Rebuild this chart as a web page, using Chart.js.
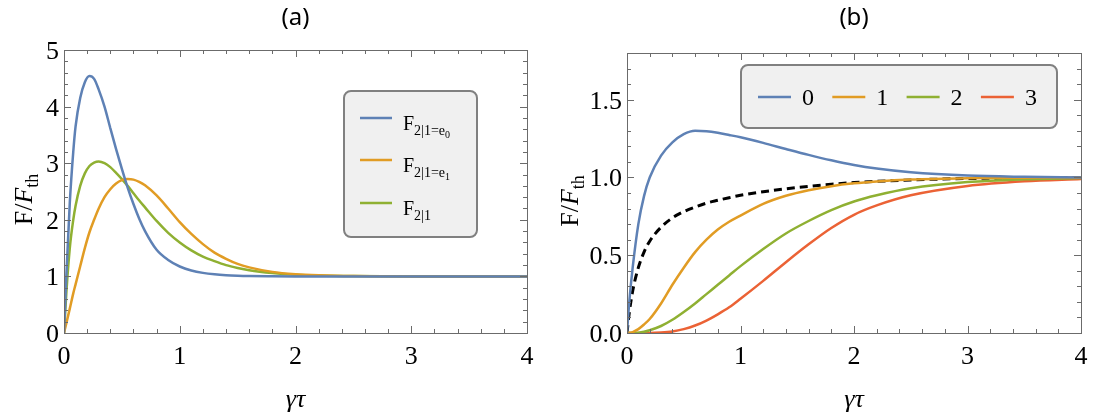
<!DOCTYPE html>
<html>
<head>
<meta charset="utf-8">
<script src="https://cdn.jsdelivr.net/npm/chart.js@4.4.1/dist/chart.umd.min.js"></script>
<style>
html, body { margin: 0; padding: 0; background: #fff; }
#wrap { display: flex; width: 1094px; height: 420px; }
.panel { width: 547px; height: 420px; }
</style>
</head>
<body>
<div id="wrap">
  <div class="panel"><canvas id="chartA" width="547" height="420"></canvas></div>
  <div class="panel"><canvas id="chartB" width="547" height="420"></canvas></div>
</div>
<script>
// ---- panel (a) data ----
const xA = [0, 0.02, 0.05, 0.08, 0.1, 0.14, 0.18, 0.22, 0.26, 0.3, 0.35, 0.4, 0.45, 0.5, 0.55, 0.6, 0.65, 0.7,
            0.8, 0.9, 1.0, 1.1, 1.2, 1.3, 1.4, 1.5, 1.6, 1.8, 2.0, 2.2, 2.5, 3.0, 3.5, 4.0]
const fE0 = [0, 1.0, 2.3, 3.2, 3.65, 4.15, 4.43, 4.54, 4.49, 4.3, 4.0, 3.62, 3.25, 2.9, 2.57, 2.28, 2.02, 1.8,
             1.47, 1.29, 1.175, 1.105, 1.062, 1.036, 1.02, 1.011, 1.006, 1.002, 1.0, 1.0, 1.0, 1.0, 1.0, 1.0]
const fE1 = [0, 0.17, 0.43, 0.7, 0.86, 1.18, 1.5, 1.78, 2.0, 2.2, 2.4, 2.54, 2.64, 2.7, 2.72, 2.71, 2.67, 2.61,
             2.43, 2.2, 1.96, 1.75, 1.57, 1.42, 1.31, 1.22, 1.16, 1.08, 1.04, 1.02, 1.005, 1.0, 1.0, 1.0]
const fAll = [0, 0.7, 1.5, 2.0, 2.25, 2.6, 2.82, 2.95, 3.01, 3.03, 3.0, 2.93, 2.83, 2.72, 2.6, 2.47, 2.34, 2.22,
              1.98, 1.77, 1.6, 1.46, 1.35, 1.27, 1.2, 1.15, 1.11, 1.06, 1.03, 1.015, 1.005, 1.0, 1.0, 1.0]
const xTicksA = [0, 1, 2, 3, 4]
const yTicksA = [0, 1, 2, 3, 4, 5]

// ---- panel (b) data ----
const xB = [0, 0.02, 0.05, 0.1, 0.15, 0.2, 0.3, 0.4, 0.5, 0.6, 0.7, 0.8, 0.9, 1.0, 1.2, 1.4, 1.6,
            1.8, 2.0, 2.2, 2.5, 3.0, 3.5, 4.0]
const n0 = [0, 0.2, 0.42, 0.7, 0.88, 1.0, 1.14, 1.225, 1.278, 1.300, 1.297, 1.287, 1.273, 1.258, 1.222, 1.183, 1.145,
            1.11, 1.08, 1.057, 1.033, 1.012, 1.004, 1.0]
const n1 = [0, 0.001, 0.006, 0.025, 0.055, 0.09, 0.19, 0.31, 0.42, 0.52, 0.6, 0.665, 0.715, 0.755, 0.83, 0.882, 0.918,
            0.944, 0.962, 0.974, 0.986, 0.995, 0.998, 1.0]
const n2 = [0, 0, 0, 0.002, 0.008, 0.018, 0.045, 0.085, 0.135, 0.19, 0.25, 0.31, 0.37, 0.43, 0.54, 0.64, 0.72,
            0.79, 0.845, 0.885, 0.93, 0.97, 0.988, 0.996]
const n3 = [0, 0, 0, 0, 0, 0, 0.003, 0.01, 0.025, 0.048, 0.08, 0.12, 0.165, 0.22, 0.335, 0.455, 0.57,
            0.675, 0.76, 0.82, 0.885, 0.945, 0.975, 0.99]
const dashed = [0, 0.13, 0.27, 0.42, 0.52, 0.59, 0.68, 0.74, 0.78, 0.81, 0.835, 0.853, 0.87, 0.885, 0.908, 0.927, 0.943,
                0.956, 0.967, 0.975, 0.984, 0.993, 0.997, 1.0]
const xTicksB = [0, 1, 2, 3, 4]
const yTicksB = [0, 0.5, 1.0, 1.5]

const BLUE = '#5e81b5', ORANGE = '#e19c24', GREEN = '#8fb032', RED = '#eb6235'
const SERIF = '"Liberation Serif", "Times New Roman", serif'
const FRAME = '#6b6b6b'

const pts = (xs, ys) => xs.map((x, i) => ({ x: x, y: ys[i] }))

function line(label, xs, ys, color, extra) {
    return Object.assign({
        label: label, data: pts(xs, ys), borderColor: color, borderWidth: 2.5,
        pointRadius: 0, cubicInterpolationMode: 'monotone', fill: false
    }, extra || {})
}

// frame with inward ticks on all four sides, Mathematica style; also labels and titles
const frameTicks = {
    id: 'frameTicks',
    afterDraw(chart, args, opts) {
        const { ctx, chartArea: a, scales: { x, y } } = chart
        ctx.save()
        ctx.strokeStyle = FRAME
        ctx.lineWidth = 1
        ctx.beginPath()
        for (let v = x.min; v <= x.max + 1e-9; v += opts.xMinor) {
            const px = Math.round(x.getPixelForValue(v)) + 0.5
            const major = Math.abs(v / opts.xMajor - Math.round(v / opts.xMajor)) < 1e-6
            const len = major ? 7 : 4
            ctx.moveTo(px, a.bottom); ctx.lineTo(px, a.bottom - len)
            ctx.moveTo(px, a.top); ctx.lineTo(px, a.top + len)
        }
        for (let v = y.min; v <= y.max + 1e-9; v += opts.yMinor) {
            const py = Math.round(y.getPixelForValue(v)) + 0.5
            const major = Math.abs(v / opts.yMajor - Math.round(v / opts.yMajor)) < 1e-6
            const len = major ? 7 : 4
            ctx.moveTo(a.left, py); ctx.lineTo(a.left + len, py)
            ctx.moveTo(a.right, py); ctx.lineTo(a.right - len, py)
        }
        ctx.stroke()
        ctx.strokeRect(Math.round(a.left) + 0.5, Math.round(a.top) + 0.5,
            Math.round(a.right - a.left), Math.round(a.bottom - a.top))

        // tick labels, from the scales' own ticks
        ctx.fillStyle = '#000'
        ctx.font = '26px ' + SERIF
        ctx.textBaseline = 'alphabetic'
        ctx.textAlign = 'center'
        x.ticks.forEach(t => ctx.fillText(String(t.value), x.getPixelForValue(t.value), a.bottom + 31))
        ctx.textAlign = 'right'
        y.ticks.forEach(t => ctx.fillText(opts.yFmt(t.value), a.left - 5, y.getPixelForValue(t.value) + 9))

        // panel title
        const cx = (a.left + a.right) / 2
        ctx.textAlign = 'center'
        ctx.textBaseline = 'middle'
        ctx.font = '24px "Noto Sans", sans-serif'
        ctx.fillText(opts.title, cx, 18)

        // x axis title
        ctx.textBaseline = 'alphabetic'
        ctx.font = 'italic 26px ' + SERIF
        ctx.fillText('γτ', cx, 407)

        // y axis title  F/F_th
        ctx.save()
        ctx.translate(opts.yTitleX, (a.top + a.bottom) / 2 + 8)
        ctx.rotate(-Math.PI / 2)
        ctx.textAlign = 'left'
        const parts = [['F/', '26px ' + SERIF, 0], ['F', 'italic 26px ' + SERIF, 0], ['th', '18px ' + SERIF, 6]]
        let w = 0
        parts.forEach(p => { ctx.font = p[1]; w += ctx.measureText(p[0]).width })
        let tx = -w / 2
        parts.forEach(p => { ctx.font = p[1]; ctx.fillText(p[0], tx, p[2]); tx += ctx.measureText(p[0]).width })
        ctx.restore()
        ctx.restore()
    }
}

function legendBox(ctx, x0, y0, x1, y1) {
    ctx.beginPath()
    ctx.roundRect(x0, y0, x1 - x0, y1 - y0, 7)
    ctx.fillStyle = '#f0f0f0'
    ctx.fill()
    ctx.strokeStyle = '#808080'
    ctx.lineWidth = 2
    ctx.stroke()
}

// legend for (a): F with two levels of subscript
const legendSubA = [['F', '2|1=e', '0'], ['F', '2|1=e', '1'], ['F', '2|1', '']]
const legendA = {
    id: 'legendA',
    afterDraw(chart) {
        const ctx = chart.ctx
        ctx.save()
        legendBox(ctx, 344, 91, 477, 237)
        const rows = [118, 160, 203]
        chart.data.datasets.forEach((ds, i) => {
            const ly = rows[i]
            ctx.strokeStyle = ds.borderColor
            ctx.lineWidth = 2.5
            ctx.beginPath(); ctx.moveTo(360, ly); ctx.lineTo(392, ly); ctx.stroke()
            const [a, b, c] = legendSubA[i]
            ctx.fillStyle = '#000'
            ctx.textBaseline = 'alphabetic'
            ctx.textAlign = 'left'
            let tx = 403
            const base = ly + 12
            ctx.font = '20px ' + SERIF
            ctx.fillText(a, tx, base); tx += ctx.measureText(a).width
            ctx.font = '14px ' + SERIF
            ctx.fillText(b, tx, base + 5); tx += ctx.measureText(b).width
            ctx.font = '10px ' + SERIF
            ctx.fillText(c, tx, base + 8)
        })
        ctx.restore()
    }
}

const legendLabelsB = ['0', '1', '2', '3']
const legendB = {
    id: 'legendB',
    afterDraw(chart) {
        const ctx = chart.ctx
        ctx.save()
        legendBox(ctx, 194, 65, 510, 128)
        const ly = 97
        chart.data.datasets.slice(0, 4).forEach((ds, i) => {
            const lx = 211 + i * 74.3
            ctx.strokeStyle = ds.borderColor
            ctx.lineWidth = 2.5
            ctx.beginPath(); ctx.moveTo(lx, ly); ctx.lineTo(lx + 33, ly); ctx.stroke()
            ctx.fillStyle = '#000'
            ctx.font = '24px ' + SERIF
            ctx.textAlign = 'left'
            ctx.textBaseline = 'alphabetic'
            ctx.fillText(legendLabelsB[i], lx + 44, ly + 8)
        })
        ctx.restore()
    }
}

function scalesFor(xTicks, yTicks, ymax, yWidth) {
    return {
        x: {
            type: 'linear', min: 0, max: 4,
            afterBuildTicks: s => { s.ticks = xTicks.map(v => ({ value: v })) },
            afterFit: s => { s.height = 87 },
            grid: { display: false }, border: { display: false },
            ticks: { display: false }
        },
        y: {
            type: 'linear', min: 0, max: ymax,
            afterBuildTicks: s => { s.ticks = yTicks.map(v => ({ value: v })) },
            afterFit: s => { s.width = yWidth },
            grid: { display: false }, border: { display: false },
            ticks: { display: false }
        }
    }
}

new Chart(document.getElementById('chartA'), {
    type: 'line',
    data: {
        datasets: [
            line('F2|1=e0', xA, fE0, BLUE),
            line('F2|1=e1', xA, fE1, ORANGE),
            line('F2|1', xA, fAll, GREEN)
        ]
    },
    options: {
        responsive: false, animation: false, devicePixelRatio: 1,
        layout: { padding: { left: 0, top: 50, right: 20, bottom: 0 } },
        scales: scalesFor(xTicksA, yTicksA, 5, 64),
        plugins: {
            legend: { display: false }, tooltip: { enabled: false },
            frameTicks: { xMinor: 0.2, xMajor: 1, yMinor: 0.2, yMajor: 1, title: '(a)', yTitleX: 32,
                          yFmt: v => String(v) }
        }
    },
    plugins: [frameTicks, legendA]
})

new Chart(document.getElementById('chartB'), {
    type: 'line',
    data: {
        datasets: [
            line('0', xB, n0, BLUE),
            line('1', xB, n1, ORANGE),
            line('2', xB, n2, GREEN),
            line('3', xB, n3, RED),
            line('thermal', xB, dashed, '#000', { borderWidth: 3, borderDash: [8, 5] })
        ]
    },
    options: {
        responsive: false, animation: false, devicePixelRatio: 1,
        layout: { padding: { left: 0, top: 53, right: 13, bottom: 0 } },
        scales: scalesFor(xTicksB, yTicksB, 1.8, 80),
        plugins: {
            legend: { display: false }, tooltip: { enabled: false },
            frameTicks: { xMinor: 0.2, xMajor: 1, yMinor: 0.1, yMajor: 0.5, title: '(b)', yTitleX: 31,
                          yFmt: v => v.toFixed(1) }
        }
    },
    plugins: [frameTicks, legendB]
})
</script>
</body>
</html>
